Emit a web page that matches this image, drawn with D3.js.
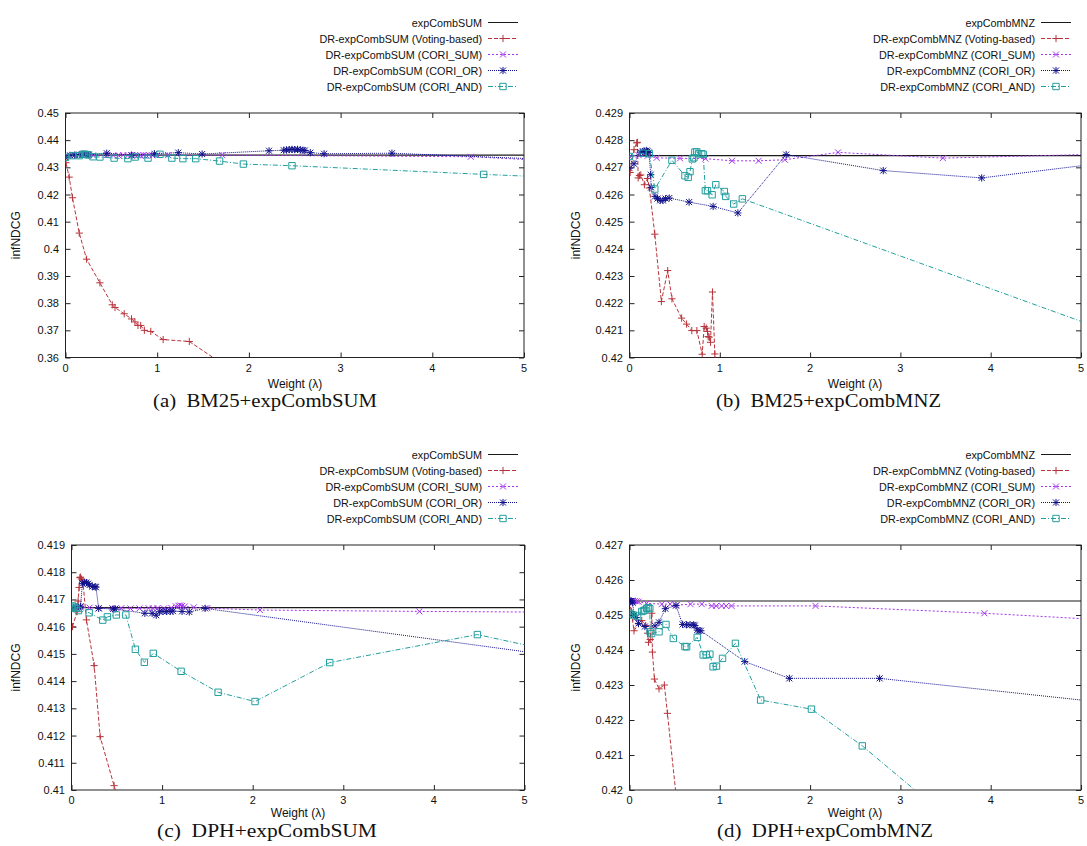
<!DOCTYPE html>
<html>
<head>
<meta charset="utf-8">
<script src="https://cdn.jsdelivr.net/npm/d3@7"></script>
<style>
  body { margin: 0; background: #fff; }
  svg { display: block; }
</style>
</head>
<body>
<svg id="chart" width="1087" height="846"></svg>
<script>
// ---- Data: infNDCG against fusion weight (lambda) ----

const xTicks = [0, 1, 2, 3, 4, 5];

// (a) BM25 + expCombSUM
const aYTicks = [0.36, 0.37, 0.38, 0.39, 0.40, 0.41, 0.42, 0.43, 0.44, 0.45];
const aBaseline = 0.4345;
const aVoting = [[0,0.4337],[0.005,0.4317],[0.04,0.4264],[0.076,0.4188],[0.15,0.4058],[0.23,0.3962],[0.375,0.3875],[0.51,0.3794],[0.54,0.3784],[0.64,0.3761],[0.72,0.3742],[0.757,0.3731],[0.79,0.3718],[0.82,0.3718],[0.86,0.3700],[0.93,0.3696],[1.065,0.3666],[1.35,0.3659],[2.0,0.3511]];
const aCoriSum = [[0,0.4342],[0.1,0.4345],[0.2,0.4346],[0.3,0.4344],[0.45,0.4345],[0.52,0.4344],[0.58,0.4343],[0.63,0.4345],[0.68,0.4344],[0.72,0.4343],[0.76,0.4345],[0.79,0.4344],[0.82,0.4343],[0.85,0.4345],[0.88,0.4344],[0.91,0.4345],[0.95,0.4344],[1.0,0.4345],[1.12,0.4345],[1.71,0.4345],[4.42,0.4339],[5.6,0.4319]];
const aCoriOr = [[0,0.4337],[0.05,0.4344],[0.1,0.4345],[0.15,0.4347],[0.19,0.4348],[0.22,0.4347],[0.25,0.4346],[0.45,0.4352],[0.72,0.4345],[0.97,0.4350],[1.23,0.4354],[1.49,0.4349],[2.22,0.4361],[2.38,0.4363],[2.41,0.4364],[2.44,0.4365],[2.47,0.4366],[2.5,0.4365],[2.53,0.4366],[2.56,0.4364],[2.59,0.4363],[2.61,0.4362],[2.67,0.4354],[2.82,0.4350],[3.56,0.4352],[5.5,0.4326]];
const aCoriAnd = [[0,0.4337],[0.076,0.4343],[0.15,0.4343],[0.19,0.4348],[0.21,0.4348],[0.23,0.4347],[0.25,0.4346],[0.3,0.4339],[0.375,0.4338],[0.53,0.4334],[0.68,0.4332],[0.76,0.4338],[0.9,0.4334],[1.03,0.4348],[1.16,0.4334],[1.28,0.4332],[1.42,0.4332],[1.68,0.4323],[1.94,0.4312],[2.47,0.4306],[4.56,0.4274],[5.5,0.4261]];

// (b) BM25 + expCombMNZ
const bYTicks = [0.420, 0.421, 0.422, 0.423, 0.424, 0.425, 0.426, 0.427, 0.428, 0.429];
const bBaseline = 0.42743;
const bVoting = [[0,0.4274],[0.007,0.42681],[0.05,0.42765],[0.08,0.4279],[0.088,0.42792],[0.096,0.42661],[0.11,0.4267],[0.125,0.42672],[0.165,0.42636],[0.2,0.42659],[0.22,0.42624],[0.28,0.42454],[0.353,0.42206],[0.423,0.4232],[0.47,0.42216],[0.577,0.42145],[0.632,0.42123],[0.69,0.42099],[0.746,0.42099],[0.805,0.42012],[0.827,0.42114],[0.85,0.42108],[0.864,0.42096],[0.871,0.42077],[0.882,0.42075],[0.897,0.42056],[0.919,0.42241],[0.945,0.42013],[0.97,0.4195]];
const bCoriSum = [[0,0.4274],[0.1,0.42745],[0.2,0.42742],[0.3,0.42735],[0.56,0.42733],[0.84,0.42732],[1.136,0.42724],[1.43,0.42724],[1.72,0.42728],[2.31,0.42755],[3.47,0.42734],[5.4,0.4275]];
const bCoriOr = [[0,0.42697],[0.05,0.42713],[0.12,0.42756],[0.15,0.42758],[0.17,0.4276],[0.19,0.42762],[0.2,0.42758],[0.215,0.42755],[0.235,0.42673],[0.24,0.42626],[0.283,0.42593],[0.31,0.42585],[0.34,0.42578],[0.37,0.42578],[0.4,0.42585],[0.44,0.42587],[0.66,0.42572],[0.926,0.42556],[1.2,0.42532],[1.735,0.42747],[2.81,0.42688],[3.9,0.42661],[5.3,0.42718]];
const bCoriAnd = [[0,0.4274],[0.15,0.42752],[0.22,0.4275],[0.28,0.4262],[0.47,0.42726],[0.614,0.42669],[0.65,0.42663],[0.67,0.42684],[0.695,0.42731],[0.713,0.42735],[0.724,0.42756],[0.745,0.42757],[0.765,0.4275],[0.8,0.4275],[0.816,0.42748],[0.84,0.42614],[0.864,0.42614],[0.915,0.42599],[0.956,0.42636],[1.05,0.42611],[1.066,0.42593],[1.154,0.42565],[1.25,0.42584],[5.5,0.42073]];

// (c) DPH + expCombSUM
const cYTicks = [0.410, 0.411, 0.412, 0.413, 0.414, 0.415, 0.416, 0.417, 0.418, 0.419];
const cBaseline = 0.4167;
const cVoting = [[0.011,0.416],[0.062,0.41655],[0.073,0.41694],[0.084,0.41744],[0.092,0.4178],[0.1,0.41782],[0.11,0.41775],[0.125,0.41768],[0.165,0.41625],[0.25,0.41457],[0.316,0.41196],[0.47,0.41016],[0.55,0.4092]];
const cCoriSum = [[0,0.4167],[0.05,0.41672],[0.1,0.41671],[0.2,0.4167],[0.3,0.41668],[0.45,0.41668],[0.55,0.41668],[0.65,0.41667],[0.75,0.41667],[0.85,0.41668],[0.9,0.41667],[0.95,0.41668],[1.02,0.41667],[1.1,0.41669],[1.15,0.41675],[1.18,0.41677],[1.2,0.41678],[1.22,0.41676],[1.25,0.41674],[1.35,0.41671],[1.5,0.41668],[2.08,0.41661],[3.84,0.41656],[5.5,0.41653]];
const cCoriOr = [[0,0.41665],[0.05,0.41672],[0.1,0.41675],[0.12,0.41759],[0.145,0.41762],[0.165,0.41762],[0.185,0.41758],[0.2,0.41753],[0.23,0.41747],[0.26,0.41747],[0.27,0.41745],[0.3,0.41667],[0.46,0.41665],[0.48,0.41665],[0.81,0.41649],[0.89,0.41649],[0.935,0.41642],[0.97,0.41655],[1.01,0.41656],[1.05,0.41656],[1.09,0.41656],[1.12,0.41657],[1.22,0.41656],[1.3,0.41654],[1.475,0.41667],[5.4,0.4149]];
const cCoriAnd = [[0,0.41667],[0.01,0.41676],[0.03,0.41672],[0.05,0.41668],[0.077,0.41659],[0.195,0.41651],[0.345,0.41624],[0.396,0.41636],[0.495,0.41643],[0.6,0.41643],[0.705,0.41517],[0.804,0.41469],[0.903,0.41502],[1.21,0.41436],[1.618,0.41359],[2.026,0.41325],[2.85,0.41468],[4.48,0.41571],[5.5,0.41497]];

// (d) DPH + expCombMNZ
const dYTicks = [0.420, 0.421, 0.422, 0.423, 0.424, 0.425, 0.426, 0.427];
const dBaseline = 0.4254;
const dVoting = [[0,0.4254],[0.02,0.4251],[0.05,0.42455],[0.1,0.42475],[0.136,0.42484],[0.18,0.4247],[0.2,0.42448],[0.21,0.42422],[0.23,0.4243],[0.247,0.42505],[0.254,0.42394],[0.276,0.42317],[0.327,0.42289],[0.386,0.423],[0.42,0.42219],[0.53,0.4195]];
const dCoriSum = [[0,0.4254],[0.01,0.4254],[0.02,0.4254],[0.03,0.42541],[0.04,0.4254],[0.06,0.4254],[0.08,0.42539],[0.1,0.42538],[0.19,0.42533],[0.357,0.42531],[0.45,0.42531],[0.52,0.42528],[0.676,0.42531],[0.8,0.42531],[0.91,0.42526],[0.96,0.42526],[1.02,0.42526],[1.07,0.42526],[1.13,0.42526],[2.06,0.42526],[3.93,0.42505],[5.4,0.42484]];
const dCoriOr = [[0,0.4254],[0.01,0.4254],[0.02,0.4254],[0.035,0.42535],[0.05,0.425],[0.074,0.42493],[0.1,0.42476],[0.17,0.42467],[0.283,0.42469],[0.327,0.42479],[0.397,0.42518],[0.515,0.42527],[0.588,0.42473],[0.632,0.42472],[0.67,0.42472],[0.71,0.42472],[0.724,0.4247],[0.75,0.42457],[0.77,0.42455],[0.79,0.42455],[1.276,0.42367],[1.77,0.42319],[2.77,0.42319],[5.4,0.42246]];
const dCoriAnd = [[0,0.42505],[0.04,0.425],[0.09,0.42497],[0.136,0.4251],[0.155,0.42512],[0.17,0.42514],[0.19,0.42519],[0.21,0.42521],[0.225,0.42518],[0.228,0.42452],[0.245,0.42447],[0.327,0.42452],[0.404,0.42473],[0.485,0.42433],[0.614,0.4241],[0.632,0.42409],[0.75,0.42436],[0.816,0.42386],[0.85,0.42386],[0.89,0.42388],[0.926,0.42352],[0.963,0.42354],[1.03,0.42376],[1.173,0.42419],[1.452,0.42257],[2.015,0.42231],[2.578,0.42126],[3.4,0.41948]];

const sumNames = ["expCombSUM", "DR-expCombSUM (Voting-based)", "DR-expCombSUM (CORI_SUM)", "DR-expCombSUM (CORI_OR)", "DR-expCombSUM (CORI_AND)"];
const mnzNames = ["expCombMNZ", "DR-expCombMNZ (Voting-based)", "DR-expCombMNZ (CORI_SUM)", "DR-expCombMNZ (CORI_OR)", "DR-expCombMNZ (CORI_AND)"];
const captions = ["(a)  BM25+expCombSUM", "(b)  BM25+expCombMNZ", "(c)  DPH+expCombSUM", "(d)  DPH+expCombMNZ"];

// ---- Styling for the five curves ----
const styles = [
  { color: "#1a1a1a", dash: null,        symbol: null },
  { color: "#b8333b", dash: "4,2",       symbol: "plus" },
  { color: "#a234ee", dash: "2,2",       symbol: "cross" },
  { color: "#12128c", dash: "1,1",       symbol: "star" },
  { color: "#239e9e", dash: "5,2,1,2",   symbol: "square" }
];

function symbolPath(kind) {
  const p = 3.6, c = 3.0, q = 3.2;
  if (kind === "plus")   return `M${-p},0H${p}M0,${-p}V${p}`;
  if (kind === "cross")  return `M${-c},${-c}L${c},${c}M${-c},${c}L${c},${-c}`;
  if (kind === "star")   return `M${-p},0H${p}M0,${-p}V${p}M${-c},${-c}L${c},${c}M${-c},${c}L${c},${-c}`;
  if (kind === "square") return `M${-q},${-q}H${q}V${q}H${-q}Z`;
  return "";
}

// ---- Panel layout ----
const panels = [
  { key: "a", x0: 65.5, x1: 524, y0: 113, y1: 357.5, yDomain: [0.36, 0.45], yTicks: aYTicks,
    base: aBaseline, series: [aVoting, aCoriSum, aCoriOr, aCoriAnd], names: sumNames,
    caption: captions[0], capX: 153, capW: 224, capY: 406.5, xLabX: 295, xLabY: 388, yLabX: 19.5,
    legRight: 482, legTop: 22.5 },
  { key: "b", x0: 629.5, x1: 1081, y0: 113, y1: 357.5, yDomain: [0.42, 0.429], yTicks: bYTicks,
    base: bBaseline, series: [bVoting, bCoriSum, bCoriOr, bCoriAnd], names: mnzNames,
    caption: captions[1], capX: 716, capW: 225, capY: 406.5, xLabX: 855, xLabY: 388, yLabX: 579.5,
    legRight: 1035, legTop: 22.5 },
  { key: "c", x0: 71.5, x1: 524.5, y0: 545, y1: 790, yDomain: [0.41, 0.419], yTicks: cYTicks,
    base: cBaseline, series: [cVoting, cCoriSum, cCoriOr, cCoriAnd], names: sumNames,
    caption: captions[2], capX: 157, capW: 220, capY: 836.5, xLabX: 298, xLabY: 816.5, yLabX: 19.5,
    legRight: 482, legTop: 454.5 },
  { key: "d", x0: 629.5, x1: 1081, y0: 545, y1: 790, yDomain: [0.42, 0.427], yTicks: dYTicks,
    base: dBaseline, series: [dVoting, dCoriSum, dCoriOr, dCoriAnd], names: mnzNames,
    caption: captions[3], capX: 717, capW: 216, capY: 836.5, xLabX: 855, xLabY: 816.5, yLabX: 579.5,
    legRight: 1035, legTop: 454.5 }
];

const svg = d3.select("#chart");
svg.append("rect").attr("width", 1087).attr("height", 846).attr("fill", "#fff");

const sans = "'Liberation Sans', Arial, Helvetica, sans-serif";
const serif = "'Liberation Serif', 'Times New Roman', Times, serif";
const yFmt = d3.format("~g");

panels.forEach(p => {
  const g = svg.append("g").attr("class", "panel-" + p.key);
  const x = d3.scaleLinear().domain([0, 5]).range([p.x0, p.x1]);
  const y = d3.scaleLinear().domain(p.yDomain).range([p.y1, p.y0]);
  const tickLen = 5;

  // Clip region for the plotting area
  const clipId = "clip-" + p.key;
  svg.append("clipPath").attr("id", clipId)
    .append("rect").attr("x", p.x0).attr("y", p.y0)
    .attr("width", p.x1 - p.x0).attr("height", p.y1 - p.y0);

  // Inward ticks on all four sides (left/bottom labelled)
  const yLeft = d3.axisRight(y).tickValues(p.yTicks).tickSize(tickLen).tickFormat("");
  const yRight = d3.axisLeft(y).tickValues(p.yTicks).tickSize(tickLen).tickFormat("");
  const xBottom = d3.axisTop(x).tickValues(xTicks).tickSize(tickLen).tickFormat("");
  const xTop = d3.axisBottom(x).tickValues(xTicks).tickSize(tickLen).tickFormat("");

  const axes = [
    g.append("g").attr("transform", `translate(${p.x0},0)`).call(yLeft),
    g.append("g").attr("transform", `translate(${p.x1},0)`).call(yRight),
    g.append("g").attr("transform", `translate(0,${p.y1})`).call(xBottom),
    g.append("g").attr("transform", `translate(0,${p.y0})`).call(xTop)
  ];
  axes.forEach(a => {
    a.select(".domain").remove();
    a.selectAll("line").attr("stroke", "#222").attr("stroke-width", 1);
  });

  // Tick labels
  g.append("g").selectAll("text").data(p.yTicks).join("text")
    .attr("x", p.x0 - 6.5).attr("y", d => y(d) + 4)
    .attr("text-anchor", "end").attr("font-family", sans).attr("font-size", 11)
    .attr("fill", "#111").text(d => yFmt(d));
  g.append("g").selectAll("text").data(xTicks).join("text")
    .attr("x", d => x(d)).attr("y", p.y1 + 14)
    .attr("text-anchor", "middle").attr("font-family", sans).attr("font-size", 11)
    .attr("fill", "#111").text(d => d);

  // Frame
  g.append("rect").attr("x", p.x0).attr("y", p.y0)
    .attr("width", p.x1 - p.x0).attr("height", p.y1 - p.y0)
    .attr("fill", "none").attr("stroke", "#222").attr("stroke-width", 1);

  // Axis titles
  g.append("text")
    .attr("transform", `translate(${p.yLabX},${(p.y0 + p.y1) / 2}) rotate(-90)`)
    .attr("text-anchor", "middle").attr("font-family", sans).attr("font-size", 12)
    .attr("fill", "#111").text("infNDCG");
  g.append("text").attr("x", p.xLabX).attr("y", p.xLabY)
    .attr("text-anchor", "middle").attr("font-family", sans).attr("font-size", 12)
    .attr("fill", "#111").text("Weight (\u03bb)");

  // Sub-figure caption
  g.append("text").attr("x", p.capX).attr("y", p.capY)
    .attr("text-anchor", "start").attr("font-family", serif).attr("font-size", 19.5)
    .attr("textLength", p.capW).attr("lengthAdjust", "spacingAndGlyphs")
    .attr("fill", "#111").style("white-space", "pre")
    .text(p.caption);

  // Data
  const plot = g.append("g").attr("clip-path", `url(#${clipId})`);
  plot.append("line")
    .attr("x1", x(0)).attr("x2", x(5)).attr("y1", y(p.base)).attr("y2", y(p.base))
    .attr("stroke", styles[0].color).attr("stroke-width", 1.1);

  const line = d3.line().x(d => x(d[0])).y(d => y(d[1]));
  p.series.forEach((s, i) => {
    const st = styles[i + 1];
    plot.append("path").datum(s).attr("d", line)
      .attr("fill", "none").attr("stroke", st.color).attr("stroke-width", 1)
      .attr("stroke-dasharray", st.dash);
    plot.append("g").selectAll("path").data(s).join("path")
      .attr("transform", d => `translate(${x(d[0])},${y(d[1])})`)
      .attr("d", symbolPath(st.symbol))
      .attr("fill", "none").attr("stroke", st.color).attr("stroke-width", 1);
  });

  // Legend
  const leg = g.append("g");
  p.names.forEach((name, i) => {
    const st = styles[i];
    const cy = p.legTop + i * 16;
    const lx0 = p.legRight + 6, lx1 = p.legRight + 36;
    leg.append("text").attr("x", p.legRight).attr("y", cy + 4)
      .attr("text-anchor", "end").attr("font-family", sans).attr("font-size", 10.8)
      .attr("fill", "#111").text(name);
    leg.append("line").attr("x1", lx0).attr("x2", lx1).attr("y1", cy).attr("y2", cy)
      .attr("stroke", st.color).attr("stroke-width", 1).attr("stroke-dasharray", st.dash);
    if (st.symbol) {
      leg.append("path").attr("transform", `translate(${(lx0 + lx1) / 2},${cy})`)
        .attr("d", symbolPath(st.symbol)).attr("fill", "none")
        .attr("stroke", st.color).attr("stroke-width", 1);
    }
  });
});
</script>
</body>
</html>
